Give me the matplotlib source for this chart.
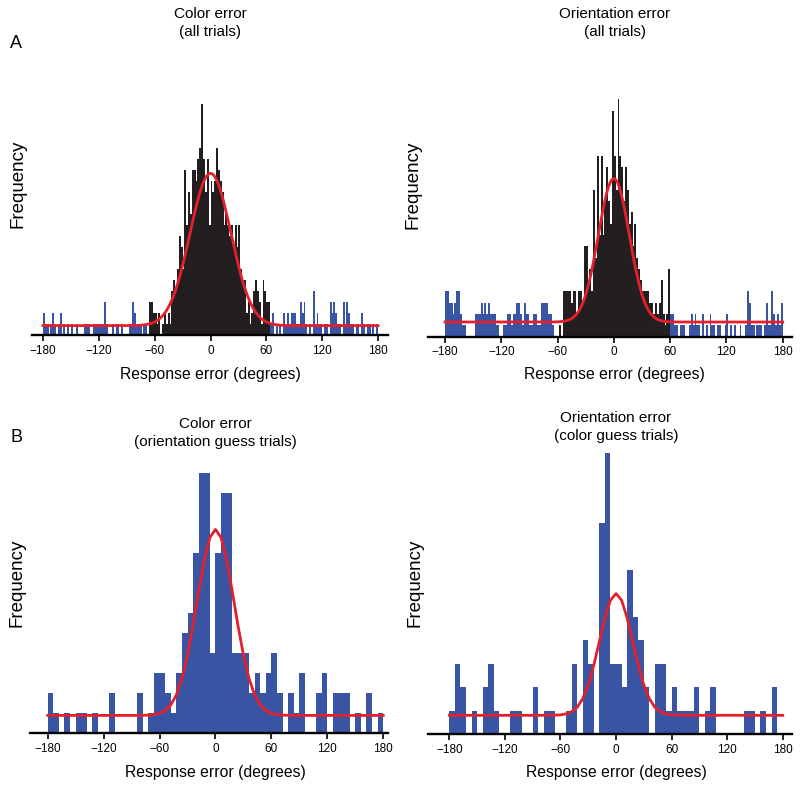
import numpy as np
import matplotlib
matplotlib.use("Agg")
import matplotlib.pyplot as plt

plt.rcParams['font.family'] = ['Liberation Sans', 'DejaVu Sans']

BLUE = '#3a54a4'
BLACK = '#231f20'
RED = '#e5202a'

# counts per 2 deg bin, from -180 to 180
color_all = [2, 1, 1, 0, 1, 2, 1, 0, 1, 2, 0, 1, 0, 1, 0, 1, 0, 0, 1, 0,
             0, 0, 1, 1, 1, 0, 0, 1, 1, 1, 1, 1, 1, 3, 1, 0, 0, 1, 0, 1,
             1, 0, 1, 0, 0, 0, 1, 1, 3, 2, 1, 1, 1, 0, 1, 1, 0,
             3, 3, 2, 2, 1, 2, 0, 1, 2, 1, 2, 1, 4, 5, 4, 6, 9, 8, 6, 15,
             10, 13, 11, 15, 15, 14, 16, 17, 21, 16, 13, 16, 10, 14, 13, 14,
             17, 15, 14, 13, 10, 11, 10, 9, 10, 8, 10, 8, 10, 6, 5, 5, 2, 3,
             1, 2, 4, 5, 4, 3, 1, 5, 4, 3, 3,
             1, 2, 0, 1, 0, 1, 0, 2, 1, 2, 1, 2, 2, 2, 1, 1, 3, 2, 3, 1,
             0, 1, 0, 4, 1, 2, 1, 1, 0, 1, 1, 0, 3, 2, 3, 2, 1, 1, 0, 3,
             1, 3, 2, 1, 1, 0, 1, 1, 0, 2, 1, 0, 1, 1, 0, 1, 0, 1]
orient_all = [4, 4, 3, 3, 2, 3, 4, 4, 2, 1, 1, 0, 0, 0, 0, 0, 2, 2, 2, 3,
              2, 3, 2, 3, 2, 2, 2, 1, 1, 0, 0, 1, 1, 2, 2, 1, 2, 2, 3, 3,
              2, 1, 3, 2, 2, 1, 1, 2, 2, 1, 1, 3, 3, 3, 3, 2, 2, 1, 0, 0, 0,
              1, 0, 4, 4, 4, 4, 3, 4, 4, 2, 4, 4, 3, 8, 8, 5, 6, 4, 13, 7,
              16, 9, 16, 9, 12, 15, 12, 10, 20, 16, 13, 21, 16, 15, 12, 15,
              13, 10, 11, 8, 10, 7, 6, 5, 4, 4, 4, 4, 3, 3, 2, 3, 2, 3, 5,
              2, 1, 2, 6,
              2, 2, 1, 1, 0, 1, 1, 1, 0, 0, 1, 2, 1, 2, 1, 1, 0, 2, 0, 1,
              0, 2, 1, 1, 0, 1, 1, 0, 0, 1, 2, 0, 1, 0, 1, 0, 0, 1, 0, 0,
              1, 4, 3, 1, 1, 0, 1, 1, 1, 0, 1, 3, 1, 1, 4, 2, 1, 2, 1, 3]

# counts per 6 deg bin, from -180 to 180
color_guess = [2, 1, 0, 1, 0, 1, 1, 0, 1, 0, 0, 2, 0, 0, 0, 0, 2, 0, 1, 3,
               3, 2, 1, 3, 5, 6, 9, 13, 13, 4, 9, 12, 12, 4, 4, 4, 2, 3, 2, 3,
               4, 2, 0, 2, 1, 3, 0, 0, 2, 3, 0, 2, 2, 2, 0, 1, 0, 2, 0, 1]
orient_guess = [1, 3, 2, 0, 1, 0, 2, 3, 1, 0, 0, 1, 1, 0, 0, 2, 0, 1, 1, 0,
                0, 1, 3, 0, 4, 3, 0, 9, 12, 3, 3, 2, 7, 5, 4, 2, 0, 3, 3, 1,
                2, 1, 1, 1, 2, 0, 1, 2, 0, 0, 0, 0, 0, 1, 1, 0, 1, 0, 2, 0]

# error range drawn in black (responses near the target)
color_all_target = (-66, 64)
orient_all_target = (-58, 60)

# fitted curves: (guess level, peak above it, sd deg)
color_all_fit = (0.85, 13.85, 22)
orient_all_fit = (1.3, 12.7, 16.5)
color_guess_fit = (0.88, 9.3, 20)
orient_guess_fit = (0.8, 5.2, 18)

W, H = 800, 790
fig = plt.figure(figsize=(W / 100, H / 100), dpi=100)


def box(l, t, r, b):
    return [l / W, 1 - b / H, (r - l) / W, (b - t) / H]


def ftext(x, y, s, **kw):
    fig.text(x / W, 1 - y / H, s, ha='center', va='center', **kw)


def draw_panel(rect, xlim, ytop, counts, fit, target=None):
    ax = fig.add_axes(rect)
    counts = np.asarray(counts)
    width = 360 / len(counts)
    left = -180 + width * np.arange(len(counts))
    colors = [BLUE] * len(counts)
    if target is not None:
        inside = (left >= target[0] - 0.01) & (left + width <= target[1] + 0.01)
        colors = np.where(inside, BLACK, BLUE)
    ax.bar(left, counts, width=width, align='edge', color=colors, linewidth=0)

    xs = np.linspace(-180, 180, len(counts) + 1)
    base, amp, sd = fit
    ax.plot(xs, base + amp * np.exp(-xs ** 2 / (2 * sd ** 2)), color=RED, lw=2.0)

    ax.set_xlim(*xlim)
    ax.set_ylim(0, ytop)
    for s in ['left', 'right', 'top']:
        ax.spines[s].set_visible(False)
    ax.spines['bottom'].set_linewidth(1.7)
    ax.set_yticks([])
    ax.set_xticks(range(-180, 181, 60))
    ax.tick_params(axis='x', direction='out', length=4.5, width=1.2,
                   labelsize=8.5, pad=2.5)
    ax.patch.set_alpha(0)
    return ax


draw_panel(box(31.7, 95, 388, 335), (-192.1, 190.7), 240 / 11,
           color_all, color_all_fit, color_all_target)
draw_panel(box(428.3, 95, 791.7, 336.7), (-197.8, 189.6), 241.7 / 11.3,
           orient_all, orient_all_fit, orient_all_target)
draw_panel(box(30, 455, 388.3, 733), (-199, 185.4), 278 / 20,
           color_guess, color_guess_fit)
draw_panel(box(428.3, 445, 791.7, 734), (-202.7, 189.7), 289 / 23.4,
           orient_guess, orient_guess_fit)

# titles
ftext(210, 23, 'Color error\n(all trials)', fontsize=11, linespacing=1.35)
ftext(615, 23, 'Orientation error\n(all trials)', fontsize=11, linespacing=1.35)
ftext(215, 433, 'Color error\n(orientation guess trials)', fontsize=11,
      linespacing=1.35)
ftext(616, 427, 'Orientation error\n(color guess trials)', fontsize=11,
      linespacing=1.35)

# panel letters
ftext(16, 44, 'A', fontsize=13)
ftext(16, 438, 'B', fontsize=13)

# axis labels
for x, y in [(18, 184), (413, 185), (17, 583), (415, 583)]:
    ftext(x, y, 'Frequency', fontsize=13.5, rotation=90)
for x, y in [(210, 375), (614, 375), (215, 773), (616, 773)]:
    ftext(x, y, 'Response error (degrees)', fontsize=11.3)

fig.savefig('out.png', dpi=100)
